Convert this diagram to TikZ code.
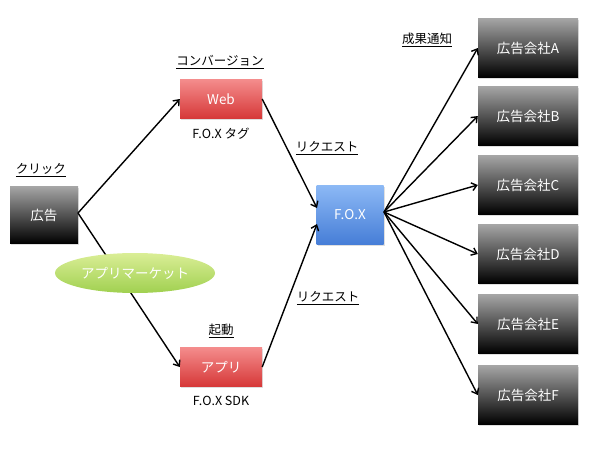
\documentclass[tikz,border=0pt]{standalone}
\usepackage{fontspec}
\setmainfont{Noto Sans CJK JP}
\usetikzlibrary{arrows.meta,shapes.geometric,shadows}
\definecolor{redtop}{RGB}{244,140,140}
\definecolor{redbot}{RGB}{214,56,56}
\definecolor{bluetop}{RGB}{140,185,245}
\definecolor{bluebot}{RGB}{70,125,215}
\definecolor{greentop}{RGB}{218,238,150}
\definecolor{greenbot}{RGB}{160,208,80}
\definecolor{greytop}{RGB}{165,165,165}
\begin{document}
\begin{tikzpicture}[x=1pt,y=-1pt,
  boxtext/.style={text=white,font=\fontsize{13.5}{15}\selectfont},
  shadowed/.style={drop shadow={opacity=0.25,shadow xshift=1pt,shadow yshift=-1pt}},
  blackbox/.style={rectangle,minimum width=68pt,minimum height=57pt,top color=greytop,bottom color=black,draw=none,boxtext,shadowed},
  compbox/.style={blackbox,minimum width=100pt,minimum height=59pt},
  redbox/.style={rectangle,minimum width=82pt,minimum height=39pt,top color=redtop,bottom color=redbot,draw=none,boxtext,shadowed},
  bluebox/.style={rectangle,minimum width=67pt,minimum height=59pt,top color=bluetop,bottom color=bluebot,draw=none,boxtext,shadowed},
  lbl/.style={font=\fontsize{12.5}{14}\selectfont,text=black},
  arr/.style={-{Straight Barb[length=5pt,width=8pt]},line width=1.4pt,black}]
\useasboundingbox (0,0) rectangle (600,450);
\node[blackbox] (ad) at (44,215) {広告};
\node[lbl] (click) at (41,170) {\underline{クリック}};
\node[redbox] (web) at (221,99) {Web};
\node[lbl] (conv) at (220,62) {\underline{コンバージョン}};
\node[lbl] (tag) at (221,134) {F.O.X タグ};
\node[redbox] (app) at (221,367) {アプリ};
\node[lbl] (kido) at (221,331) {\underline{起動}};
\node[lbl] (sdk) at (221,401) {F.O.X SDK};
\node[bluebox] (fox) at (350,215) {F.O.X};
\node[lbl] (req1) at (327,148) {\underline{リクエスト}};
\node[lbl] (req2) at (328,298) {\underline{リクエスト}};
\node[lbl] (seika) at (427,40) {\underline{成果通知}};
\node[compbox] (A) at (528,48) {広告会社A};
\node[compbox] (B) at (528,116) {広告会社B};
\node[compbox] (C) at (528,185) {広告会社C};
\node[compbox] (D) at (528,254) {広告会社D};
\node[compbox] (E) at (528,324) {広告会社E};
\node[compbox] (F) at (528,395) {広告会社F};
\coordinate (adout) at (78,213);
\coordinate (foxin1) at (317,208);
\coordinate (foxin2) at (317,224);
\coordinate (foxout) at (384,212);
\draw[arr] (adout) -- (web.west);
\draw[arr] (adout) -- (app.west);
\draw[arr] (web.east) -- (foxin1);
\draw[arr] (app.east) -- (foxin2);
\foreach \c in {A,B,C,D,E,F} \draw[arr] (foxout) -- (\c.west);
\node[ellipse,minimum width=160pt,minimum height=40pt,inner sep=0pt,top color=greentop,bottom color=greenbot,draw=none,boxtext] (market) at (135,273) {アプリマーケット};
\end{tikzpicture}
\end{document}
